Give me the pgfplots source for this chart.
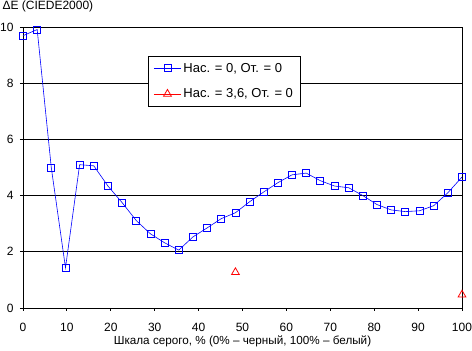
\documentclass[border=0pt]{standalone}
\usepackage{fontspec}
\setmainfont{Liberation Sans}
\usepackage{pgfplots}
\pgfplotsset{compat=1.18}
\begin{document}
\begin{tikzpicture}
\useasboundingbox (-23pt,-43pt) rectangle (449pt,308pt);
\begin{axis}[
  scale only axis, width=439pt, height=281pt,
  xmin=0, xmax=100, ymin=0, ymax=10,
  xtick={0,10,...,100}, ytick={0,2,...,10},
  /pgf/number format/assume math mode=true,
  ticklabel style={font=\fontsize{12}{14}\selectfont},
  ymajorgrids, major grid style={black, line width=0.8pt},
  axis line style={black, line width=0.8pt},
  tick style={black, line width=0.8pt},
  tick align=outside, major tick length=3pt,
  xtick pos=bottom, ytick pos=left,
  xticklabel style={yshift=-9pt},
  yticklabel style={xshift=-3pt},
  unbounded coords=jump,
  xlabel={Шкала серого, \% (0\% – черный, 100\% – белый)},
  xlabel style={font=\fontsize{11.7}{14}\selectfont, yshift=3pt},
  title={ΔE (CIEDE2000)},
  title style={font=\fontsize{12}{14}\selectfont, at={(0,1)}, anchor=south west, xshift=-24pt, yshift=5pt},
  legend style={at={(axis cs:28.5,8.98)}, anchor=north west, draw=black, line width=0.8pt,
    font=\fontsize{13}{15}\selectfont, row sep=11pt, inner xsep=5pt, inner ysep=5pt},
  legend cell align=left,
  legend image code/.code={\draw[mark repeat=2,mark phase=2] plot coordinates {(0cm,0cm)(0.48cm,0cm)(0.96cm,0cm)};},
]
\addplot[blue, line width=0.6pt, mark=square, mark size=3.5pt, mark options={solid, line width=0.8pt, fill=white}] coordinates {
(0,9.69) (3.23,9.91) (6.45,4.99) (9.68,1.43) (12.90,5.10) (16.13,5.06)
(19.35,4.34) (22.58,3.75) (25.81,3.11) (29.03,2.64) (32.26,2.32) (35.48,2.06)
(38.71,2.53) (41.94,2.85) (45.16,3.18) (48.39,3.39) (51.61,3.78) (54.84,4.13)
(58.06,4.46) (61.29,4.74) (64.52,4.80) (67.74,4.53) (70.97,4.34) (74.19,4.28)
(77.42,4.00) (80.65,3.68) (83.87,3.49) (87.10,3.43) (90.32,3.46) (93.55,3.64)
(96.77,4.10) (100,4.66)
};
\addlegendentry{Нас. = 0, От. = 0}
\addplot[red, line width=0.6pt, mark=triangle, mark size=4.5pt, mark options={solid, line width=0.8pt, fill=white}] coordinates {
(48.39,1.27) (70,nan) (100,0.47)
};
\addlegendentry{Нас. = 3,6, От. = 0}
\end{axis}
\end{tikzpicture}
\end{document}
